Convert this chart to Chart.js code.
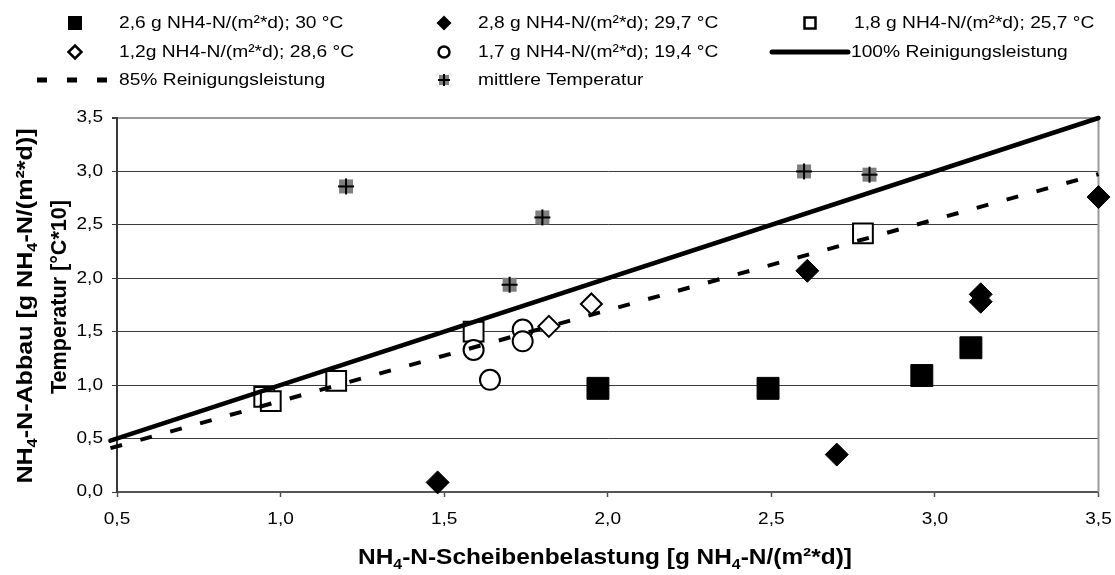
<!DOCTYPE html>
<html>
<head>
<meta charset="utf-8">
<script src="https://cdn.jsdelivr.net/npm/chart.js@4/dist/chart.umd.min.js"></script>
<style>
  html, body { margin: 0; padding: 0; background: #fff; }
  #myChart { display: block; }
</style>
</head>
<body>
<canvas id="myChart" width="1115" height="575"></canvas>
<script>
// Scheibenbelastung (x) gegen Abbau (y), je Versuchsreihe
var s26X = [1.97, 2.49, 2.96, 3.11];
var s26Y = [0.97, 0.97, 1.09, 1.35];
var s28X = [1.48, 2.61, 2.70, 3.14, 3.14, 3.50];
var s28Y = [0.09, 2.07, 0.35, 1.85, 1.78, 2.76];
var s18X = [0.95, 0.97, 1.17, 1.59, 2.78];
var s18Y = [0.89, 0.85, 1.04, 1.50, 2.42];
var s12X = [1.82, 1.95];
var s12Y = [1.55, 1.76];
var s17X = [1.59, 1.64, 1.74, 1.74];
var s17Y = [1.33, 1.05, 1.52, 1.41];
// mittlere Temperatur [°C*10] je Reihe
var tempX = [1.2, 1.7, 1.8, 2.6, 2.8];
var tempY = [2.86, 1.94, 2.57, 3.00, 2.97];
// Reinigungsleistung 100 % / 85 %
var lineX = [0.48, 3.5];
var line100Y = [0.48, 3.5];
var line85Y = [0.41, 2.975];

var xTickValues = [0.5, 1.0, 1.5, 2.0, 2.5, 3.0, 3.5];
var xTickLabels = ['0,5', '1,0', '1,5', '2,0', '2,5', '3,0', '3,5'];
var yTickValues = [0.0, 0.5, 1.0, 1.5, 2.0, 2.5, 3.0, 3.5];
var yTickLabels = ['0,0', '0,5', '1,0', '1,5', '2,0', '2,5', '3,0', '3,5'];

var seriesNames = [
  '2,6 g NH4-N/(m²*d); 30 °C',
  '2,8 g NH4-N/(m²*d); 29,7 °C',
  '1,8 g NH4-N/(m²*d); 25,7 °C',
  '1,2g NH4-N/(m²*d); 28,6 °C',
  '1,7 g NH4-N/(m²*d); 19,4 °C',
  '100% Reinigungsleistung',
  '85% Reinigungsleistung',
  'mittlere Temperatur'
];

var FONT = '"Liberation Sans", Arial, Helvetica, sans-serif';

function pts(xs, ys) {
  return xs.map(function (x, i) { return { x: x, y: ys[i] }; });
}

// grey square with a black cross for the temperature points
function tempIcon(box, arm) {
  var c = document.createElement('canvas');
  var n = Math.max(box, arm) + 2;
  c.width = n; c.height = n;
  var g = c.getContext('2d');
  var m = n / 2;
  g.fillStyle = '#7f7f7f';
  g.fillRect(m - box / 2, m - box / 2, box, box);
  g.fillStyle = '#000';
  g.fillRect(m - arm / 2, m - 1, arm, 2);
  g.fillRect(m - 1, m - arm / 2, 2, arm);
  return c;
}

// text with subscripts, optionally widened and rotated
function drawRich(ctx, segs, x, y, o) {
  var size = o.size, sx = o.sx || 1;
  function f(s) { return (o.bold ? 'bold ' : '') + s + 'px ' + FONT; }
  var w = segs.map(function (s) {
    ctx.font = f(s[1] ? size * 0.65 : size);
    return ctx.measureText(s[0]).width;
  });
  var total = w.reduce(function (a, b) { return a + b; }, 0);
  ctx.save();
  ctx.translate(x, y);
  ctx.rotate(o.rot || 0);
  ctx.scale(sx, 1);
  ctx.textBaseline = 'middle';
  ctx.textAlign = 'left';
  ctx.fillStyle = '#000';
  var cx = o.align === 'left' ? 0 : o.align === 'right' ? -total : -total / 2;
  segs.forEach(function (s, i) {
    ctx.font = f(s[1] ? size * 0.65 : size);
    ctx.fillText(s[0], cx, s[1] ? size * 0.3 : 0);
    cx += w[i];
  });
  ctx.restore();
}

function legendMark(ctx, kind, x, y) {
  ctx.save();
  ctx.fillStyle = '#000';
  ctx.strokeStyle = '#000';
  ctx.lineWidth = 2.5;
  if (kind === 'sqFill') {
    ctx.fillRect(x - 7, y - 7, 14, 14);
  } else if (kind === 'sqOpen') {
    ctx.strokeRect(x - 5.5, y - 5.5, 11, 11);
  } else if (kind === 'diaFill' || kind === 'diaOpen') {
    var r = kind === 'diaFill' ? 7.5 : 6.5;
    ctx.beginPath();
    ctx.moveTo(x - r, y); ctx.lineTo(x, y - r); ctx.lineTo(x + r, y); ctx.lineTo(x, y + r);
    ctx.closePath();
    if (kind === 'diaFill') ctx.fill(); else ctx.stroke();
  } else if (kind === 'circOpen') {
    ctx.beginPath();
    ctx.arc(x, y, 5.5, 0, Math.PI * 2);
    ctx.stroke();
  } else if (kind === 'temp') {
    ctx.drawImage(tempIcon(10, 12), x - 7, y - 7);
  }
  ctx.restore();
}

var legendItems = [
  { kind: 'sqFill', col: 0, row: 0, text: seriesNames[0] },
  { kind: 'diaFill', col: 1, row: 0, text: seriesNames[1] },
  { kind: 'sqOpen', col: 2, row: 0, text: seriesNames[2] },
  { kind: 'diaOpen', col: 0, row: 1, text: seriesNames[3] },
  { kind: 'circOpen', col: 1, row: 1, text: seriesNames[4] },
  { kind: 'solid', col: 2, row: 1, text: seriesNames[5] },
  { kind: 'dash', col: 0, row: 2, text: seriesNames[6] },
  { kind: 'temp', col: 1, row: 2, text: seriesNames[7] }
];
var colMark = [75, 444, 810];
var colText = [119, 478, 854];
var rowY = [23, 52, 80];

var decorations = {
  id: 'decorations',
  beforeDatasetsDraw: function (chart) {
    var ctx = chart.ctx, a = chart.chartArea;
    ctx.save();
    ctx.strokeStyle = '#9a9a9a';
    ctx.lineWidth = 2;
    ctx.beginPath();
    ctx.moveTo(a.right, a.top);
    ctx.lineTo(a.right, a.bottom);
    ctx.stroke();
    ctx.restore();
  },
  afterDraw: function (chart) {
    var ctx = chart.ctx, a = chart.chartArea;
    var xs = chart.scales.x, ys = chart.scales.y;

    // tick labels
    xTickValues.forEach(function (v, i) {
      drawRich(ctx, [[xTickLabels[i]]], xs.getPixelForValue(v), a.bottom + 28, { size: 16, sx: 1.19 });
    });
    yTickValues.forEach(function (v, i) {
      drawRich(ctx, [[yTickLabels[i]]], a.left - 14, ys.getPixelForValue(v), { size: 16, sx: 1.19, align: 'right' });
    });

    // axis titles
    drawRich(ctx, [['NH'], ['4', 1], ['-N-Scheibenbelastung [g NH'], ['4', 1], ['-N/(m²*d)]']],
      605, 558, { size: 22, bold: true, sx: 1.11 });
    drawRich(ctx, [['NH'], ['4', 1], ['-N-Abbau [g NH'], ['4', 1], ['-N/(m²*d)]']],
      26, 306, { size: 22, bold: true, sx: 1.14, rot: -Math.PI / 2 });
    drawRich(ctx, [['Temperatur [°C*10]']],
      60, 297, { size: 22, bold: true, sx: 0.98, rot: -Math.PI / 2 });

    // legend
    legendItems.forEach(function (it) {
      var y = rowY[it.row];
      if (it.kind === 'solid') {
        ctx.save();
        ctx.strokeStyle = '#000';
        ctx.lineWidth = 5;
        ctx.lineCap = 'round';
        ctx.beginPath();
        ctx.moveTo(772, y); ctx.lineTo(848, y);
        ctx.stroke();
        ctx.restore();
      } else if (it.kind === 'dash') {
        ctx.save();
        ctx.strokeStyle = '#000';
        ctx.lineWidth = 5;
        ctx.setLineDash([10, 20]);
        ctx.beginPath();
        ctx.moveTo(37, y); ctx.lineTo(108, y);
        ctx.stroke();
        ctx.restore();
      } else {
        legendMark(ctx, it.kind, colMark[it.col], y);
      }
      var tx = it.kind === 'solid' ? 851 : colText[it.col];
      drawRich(ctx, [[it.text]], tx, y, { size: 17, sx: 1.13, align: 'left' });
    });
  }
};

var ctx = document.getElementById('myChart').getContext('2d');
var myChart = new Chart(ctx, {
  type: 'scatter',
  data: {
    datasets: [
      {
        label: seriesNames[5], data: pts(lineX, line100Y), showLine: true,
        borderColor: '#000', borderWidth: 4.5, borderCapStyle: 'round',
        pointRadius: 0, clip: false, order: 0
      },
      {
        label: seriesNames[6], data: pts(lineX, line85Y), showLine: true,
        borderColor: '#000', borderWidth: 4, borderDash: [12, 19],
        pointRadius: 0, clip: false, order: 1
      },
      {
        label: seriesNames[7], data: pts(tempX, tempY),
        pointStyle: tempIcon(14, 16), pointRadius: 8, clip: false, order: 2
      },
      {
        label: seriesNames[4], data: pts(s17X, s17Y), pointStyle: 'circle',
        pointRadius: 10, backgroundColor: '#fff', borderColor: '#000', borderWidth: 2,
        clip: false, order: 3
      },
      {
        label: seriesNames[3], data: pts(s12X, s12Y), pointStyle: 'rectRot',
        pointRadius: 10.5, backgroundColor: '#fff', borderColor: '#000', borderWidth: 2,
        clip: false, order: 4
      },
      {
        label: seriesNames[2], data: pts(s18X, s18Y), pointStyle: 'rect',
        pointRadius: 14, backgroundColor: '#fff', borderColor: '#000', borderWidth: 2,
        clip: false, order: 5
      },
      {
        label: seriesNames[1], data: pts(s28X, s28Y), pointStyle: 'rectRot',
        pointRadius: 11.5, backgroundColor: '#000', borderColor: '#000', borderWidth: 1,
        clip: false, order: 6
      },
      {
        label: seriesNames[0], data: pts(s26X, s26Y), pointStyle: 'rect',
        pointRadius: 15.5, backgroundColor: '#000', borderColor: '#000', borderWidth: 1,
        clip: false, order: 7
      }
    ]
  },
  options: {
    responsive: false,
    animation: false,
    devicePixelRatio: 1,
    layout: { padding: { left: 0, right: 12, top: 118, bottom: 0 } },
    plugins: {
      legend: { display: false },
      tooltip: { enabled: false }
    },
    elements: { point: { hoverRadius: 0 } },
    scales: {
      x: {
        type: 'linear', min: 0.5, max: 3.5,
        ticks: { stepSize: 0.5, display: false },
        grid: { drawOnChartArea: false, drawTicks: true, tickLength: 5, tickColor: '#505050', tickWidth: 1.5 },
        border: { color: '#555', width: 2 },
        afterFit: function (s) { s.height = 83; }
      },
      y: {
        min: 0, max: 3.5,
        ticks: { stepSize: 0.5, display: false },
        grid: {
          color: function (c) { return c.tick && c.tick.value === 3.5 ? '#9a9a9a' : '#3a3a3a'; },
          lineWidth: function (c) { return c.tick && c.tick.value === 3.5 ? 2 : 1; },
          tickLength: 5, tickColor: '#3a3a3a'
        },
        border: { color: '#3a3a3a', width: 2 },
        afterFit: function (s) { s.width = 117; }
      }
    }
  },
  plugins: [decorations]
});
</script>
</body>
</html>
